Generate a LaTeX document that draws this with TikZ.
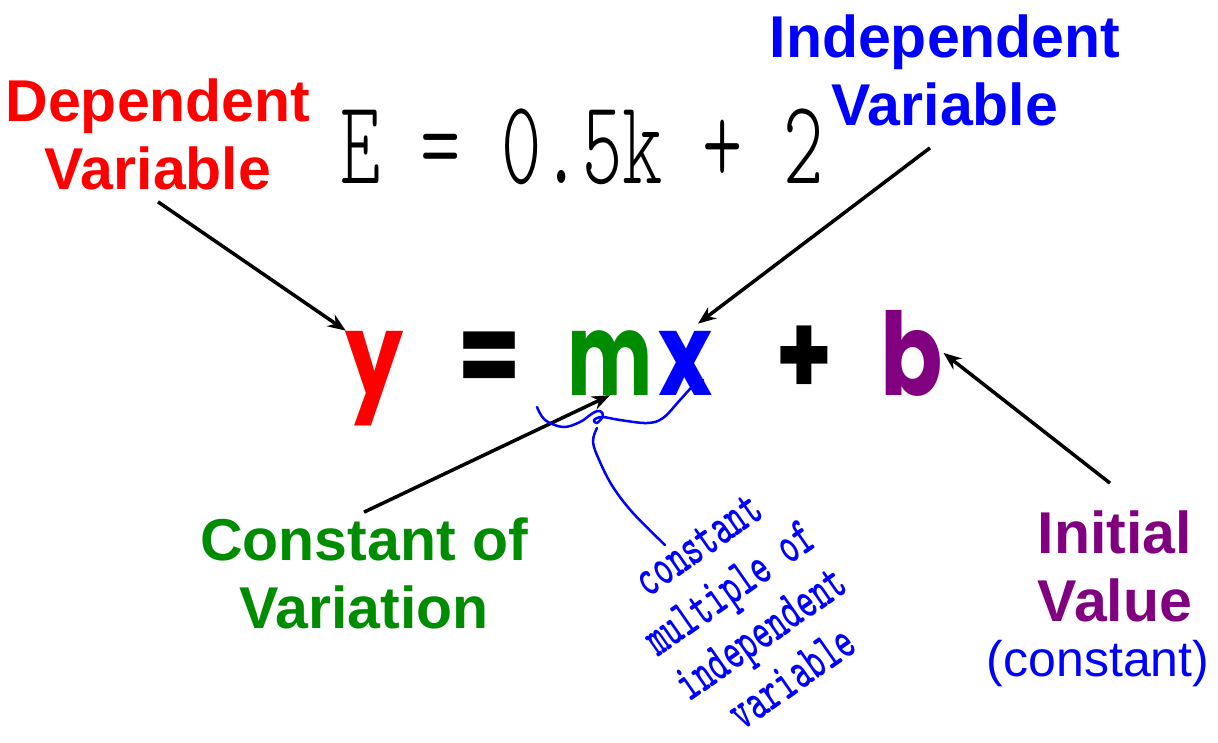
\documentclass[tikz,border=0pt]{standalone}
\usepackage{fontspec}
\setmainfont{Liberation Sans}
\newfontfamily\eqfont{Poppins}
\usetikzlibrary{arrows.meta}
\definecolor{depred}{RGB}{255,0,0}
\definecolor{indblue}{RGB}{0,0,255}
\definecolor{cvgreen}{RGB}{0,140,0}
\definecolor{ivpurple}{RGB}{128,0,128}

\begin{document}
\begin{tikzpicture}[x=1pt,y=-1pt,>={Stealth[length=18pt,width=14pt]}]
\tikzstyle{lbl}=[font=\fontsize{59}{68}\selectfont\bfseries,align=center,inner sep=2pt]
\tikzstyle{eq}=[font=\eqfont\fontsize{115}{115}\selectfont\bfseries,anchor=base,inner sep=0pt]
\tikzstyle{arr}=[->,line width=3.5pt]
\tikzstyle{hand}=[indblue,line width=2.5pt,line cap=round,line join=round]
\useasboundingbox (0,0) rectangle (1218,742);
\fill[white] (0,0) rectangle (1218,742);
% handwritten example
\node[font=\ttfamily\fontseries{l}\fontsize{120}{120}\selectfont,anchor=base,inner sep=0pt] (given) at (582,183) {\scalebox{0.64}[1]{E = 0.5k + 2}};
% the equation
\node[eq,depred] (eqy) at (375,395) {\scalebox{0.8}[1]{y}};
\node[eq] (eqeq) at (490,395) {\scalebox{0.8}[1]{=}};
\node[eq,cvgreen] (eqm) at (610,395) {\scalebox{0.7}[1]{m}};
\node[eq,indblue] (eqx) at (686,395) {\scalebox{0.8}[1]{x}};
\node[eq] (eqplus) at (804,395) {\scalebox{0.8}[1]{+}};
\node[eq,ivpurple] (eqb) at (912,395) {\scalebox{0.8}[1]{b}};
% labels
\node[lbl,depred] (dep) at (158,134) {Dependent\\Variable};
\node[lbl,indblue] (indep) at (945,70) {Independent\\Variable};
\node[lbl,cvgreen] (cvar) at (364,573) {Constant of\\Variation};
\node[lbl,ivpurple] (init) at (1115,566) {Initial\\Value};
\node[font=\fontsize{50}{58}\selectfont,indblue,anchor=base,inner sep=0pt] (initc) at (1098,676) {(constant)};
% arrows
\draw[arr] ([yshift=-10pt]dep.south) -- (eqy.north west);
\draw[arr] ([xshift=-15pt,yshift=-20pt]indep.south) -- ([xshift=12pt,yshift=7pt]eqx.north);
\draw[arr] ([yshift=3pt]cvar.north) -- (eqm.south);
\draw[arr] ([xshift=-5pt,yshift=25pt]init.north) -- (eqb.east);
% note under mx
\draw[hand] plot[smooth,tension=0.6] coordinates {(537,407) (545,420) (563,427) (580,422) (593,413) (600,411) (603,416) (597,423) (594,420) (602,417) (620,420) (647,423) (663,418) (680,400) (693,386) (703,380)};
\draw[hand] plot[smooth,tension=0.6] coordinates {(597,428) (593,442) (600,462) (613,487) (633,513) (665,545)};
\node[font=\ttfamily\bfseries\fontsize{34}{34}\selectfont,indblue,rotate=35,inner sep=0pt] (note) at (748,615) {\scalebox{1}[1.6]{\begin{tabular}{@{}c@{}}constant\\multiple of\\independent\\variable\end{tabular}}};
\end{tikzpicture}
\end{document}
